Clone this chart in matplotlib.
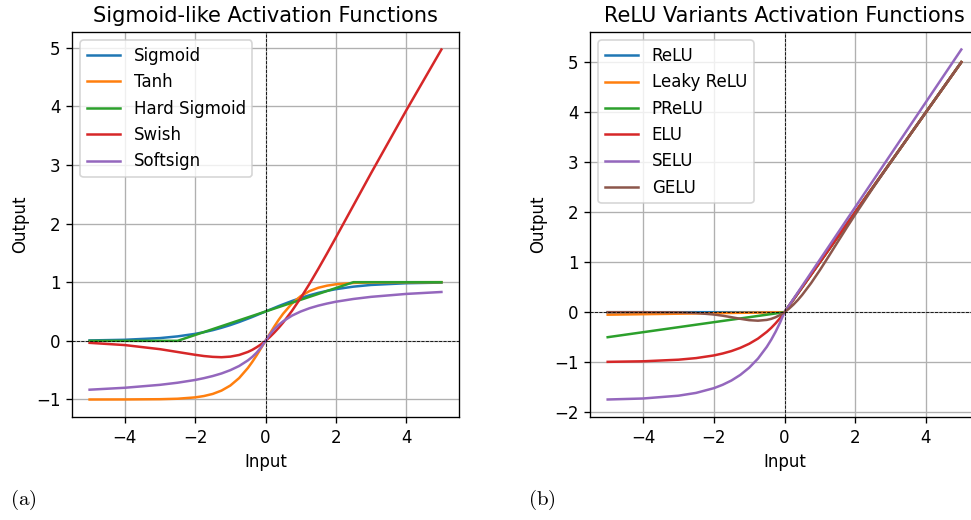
import matplotlib
matplotlib.use("Agg")
import matplotlib.pyplot as plt

# Sample inputs shared by both panels
x_vals = [-5, -4, -3, -2.5, -2, -1.75, -1.5, -1.25, -1, -0.75, -0.5, -0.375, -0.25, -0.125, 0,
          0.125, 0.25, 0.375, 0.5, 0.75, 1, 1.25, 1.5, 1.75, 2, 2.5, 3, 4, 5]

# Sigmoid-like functions
sigmoid = [0.007, 0.018, 0.047, 0.076, 0.119, 0.148, 0.182, 0.223, 0.269, 0.321, 0.378, 0.407, 0.438, 0.469, 0.5,
           0.531, 0.562, 0.593, 0.622, 0.679, 0.731, 0.777, 0.818, 0.852, 0.881, 0.924, 0.953, 0.982, 0.993]
tanh = [-1.0, -0.999, -0.995, -0.987, -0.964, -0.941, -0.905, -0.848, -0.762, -0.635, -0.462, -0.358, -0.245, -0.124, 0.0,
        0.124, 0.245, 0.358, 0.462, 0.635, 0.762, 0.848, 0.905, 0.941, 0.964, 0.987, 0.995, 0.999, 1.0]
hard_sigmoid = [0.0, 0.0, 0.0, 0.0, 0.1, 0.15, 0.2, 0.25, 0.3, 0.35, 0.4, 0.425, 0.45, 0.475, 0.5,
                0.525, 0.55, 0.575, 0.6, 0.65, 0.7, 0.75, 0.8, 0.85, 0.9, 1.0, 1.0, 1.0, 1.0]
swish = [-0.034, -0.072, -0.142, -0.190, -0.238, -0.259, -0.273, -0.279, -0.269, -0.241, -0.189, -0.153, -0.109, -0.059, 0.0,
         0.066, 0.141, 0.222, 0.311, 0.509, 0.731, 0.971, 1.227, 1.491, 1.762, 2.310, 2.858, 3.928, 4.967]
softsign = [-0.833, -0.8, -0.75, -0.714, -0.667, -0.636, -0.6, -0.556, -0.5, -0.429, -0.333, -0.273, -0.2, -0.111, 0.0,
            0.111, 0.2, 0.273, 0.333, 0.429, 0.5, 0.556, 0.6, 0.636, 0.667, 0.714, 0.75, 0.8, 0.833]

# ReLU variants
relu = [0, 0, 0, 0, 0, 0, 0, 0, 0, 0, 0, 0, 0, 0, 0,
        0.125, 0.25, 0.375, 0.5, 0.75, 1, 1.25, 1.5, 1.75, 2, 2.5, 3, 4, 5]
leaky_relu = [-0.05, -0.04, -0.03, -0.025, -0.02, -0.0175, -0.015, -0.0125, -0.01, -0.0075, -0.005, -0.004, -0.0025, -0.001, 0,
              0.125, 0.25, 0.375, 0.5, 0.75, 1, 1.25, 1.5, 1.75, 2, 2.5, 3, 4, 5]
prelu = [-0.5, -0.4, -0.3, -0.25, -0.2, -0.175, -0.15, -0.125, -0.1, -0.075, -0.05, -0.0375, -0.025, -0.0125, 0,
         0.125, 0.25, 0.375, 0.5, 0.75, 1, 1.25, 1.5, 1.75, 2, 2.5, 3, 4, 5]
elu = [-0.993, -0.982, -0.950, -0.918, -0.865, -0.826, -0.777, -0.713, -0.632, -0.528, -0.393, -0.313, -0.221, -0.118, 0,
       0.125, 0.25, 0.375, 0.5, 0.75, 1, 1.25, 1.5, 1.75, 2, 2.5, 3, 4, 5]
selu = [-1.746, -1.726, -1.670, -1.614, -1.520, -1.452, -1.366, -1.254, -1.111, -0.928, -0.692, -0.550, -0.389, -0.207, 0,
        0.131, 0.263, 0.394, 0.525, 0.788, 1.051, 1.313, 1.576, 1.839, 2.101, 2.627, 3.152, 4.203, 5.254]
gelu = [0.0, -0.0001, -0.004, -0.016, -0.046, -0.070, -0.100, -0.132, -0.159, -0.170, -0.154, -0.133, -0.100, -0.056, 0,
        0.069, 0.150, 0.242, 0.346, 0.580, 0.841, 1.118, 1.400, 1.680, 1.954, 2.484, 2.996, 4.0, 5.0]

left_series = {"Sigmoid": sigmoid, "Tanh": tanh, "Hard Sigmoid": hard_sigmoid,
               "Swish": swish, "Softsign": softsign}
right_series = {"ReLU": relu, "Leaky ReLU": leaky_relu, "PReLU": prelu,
                "ELU": elu, "SELU": selu, "GELU": gelu}

plt.rcParams["mathtext.fontset"] = "cm"

DPI = 120
fig = plt.figure(figsize=(971 / DPI, 520 / DPI), dpi=DPI)

# Right panel runs slightly past the canvas edge, as in the reference
ax1 = fig.add_axes([72 / 971, 103 / 520, 387 / 971, 385 / 520])
ax2 = fig.add_axes([590 / 971, 103 / 520, 389 / 971, 385 / 520])


def draw_panel(ax, series, title):
    for name, ys in series.items():
        ax.plot(x_vals, ys, label=name, linewidth=1.5)
    ax.axhline(0, color="black", linewidth=0.5, linestyle="--")
    ax.axvline(0, color="black", linewidth=0.5, linestyle="--")
    ax.set_title(title, fontsize=12.5)
    ax.set_xlabel("Input")
    ax.set_ylabel("Output")
    ax.grid(True)
    ax.legend(loc="upper left")


draw_panel(ax1, left_series, "Sigmoid-like Activation Functions")
draw_panel(ax2, right_series, "ReLU Variants Activation Functions")

fig.text(10 / 971, 1 - 500 / 520, r"$\mathrm{(a)}$", fontsize=12.5, va="center", ha="left")
fig.text(528 / 971, 1 - 500 / 520, r"$\mathrm{(b)}$", fontsize=12.5, va="center", ha="left")

fig.savefig("out.png", dpi=DPI)
